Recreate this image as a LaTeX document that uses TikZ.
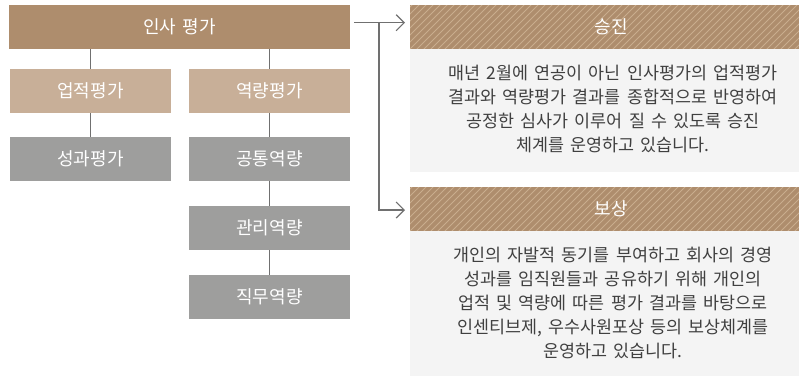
\documentclass[tikz,border=0pt]{standalone}
\usepackage{fontspec}
\setmainfont{Noto Sans CJK KR}
\newfontfamily\titlefont{Noto Sans CJK KR}[WordSpace=1.2]
\newfontfamily\bodyfont{Noto Sans CJK KR}[WordSpace=1.6]
\usetikzlibrary{arrows.meta}
\definecolor{brownA}{HTML}{AE8D6D}
\definecolor{brownL}{HTML}{C8AF98}
\definecolor{grayB}{HTML}{9E9E9D}
\definecolor{bodyBg}{HTML}{F4F4F4}
\definecolor{lineC}{HTML}{707070}
\definecolor{txt}{HTML}{404040}
\definecolor{stripe}{HTML}{C9AD8E}
\begin{document}
\begin{tikzpicture}[x=1pt,y=-1pt,
  boxbase/.style={draw=none,inner sep=0pt,text=white,font=\titlefont\fontsize{18}{20}\selectfont},
  topbox/.style={boxbase,fill=brownA,minimum width=341pt,minimum height=43.7pt},
  midbox/.style={boxbase,fill=brownL,minimum width=161pt,minimum height=43.7pt},
  lowbox/.style={boxbase,fill=grayB,minimum width=161pt,minimum height=43.7pt},
  conn/.style={draw=lineC,line width=1.2pt},
  arr/.style={draw=lineC,line width=1.2pt,-{Straight Barb[length=8pt,width=16pt,line width=1.2pt]}},
  bodytext/.style={text=txt,align=center,inner sep=0pt,font=\bodyfont\fontsize{17.4}{24}\selectfont},
  headtext/.style={text=white,inner sep=0pt,font=\titlefont\fontsize{18}{20}\selectfont}
]
\useasboundingbox (0,0) rectangle (799,376);
\fill[white] (0,0) rectangle (799,376);

% left hierarchy
\node[topbox] (top) at (179.5,26.85) {인사 평가};
\node[midbox] (up) at (90.5,90.85) {업적평가};
\node[midbox] (yeok) at (269.5,90.85) {역량평가};
\node[lowbox] (sung) at (90.5,158.85) {성과평가};
\node[lowbox] (gong) at (269.5,158.85) {공통역량};
\node[lowbox] (gwan) at (269.5,227.85) {관리역량};
\node[lowbox] (jik) at (269.5,296.85) {직무역량};

\draw[conn] (up.north) -- (up.north |- top.south);
\draw[conn] (up.south) -- (sung.north);
\draw[conn] (yeok.north) -- (yeok.north |- top.south);
\draw[conn] (yeok.south) -- (gong.north);
\draw[conn] (gong.south) -- (gwan.north);
\draw[conn] (gwan.south) -- (jik.north);

% right panels
\fill[bodyBg] (410,48.7) rectangle (799,171.7);
\fill[bodyBg] (410,230.7) rectangle (799,376);
\fill[brownA] (410,5) rectangle (799,48.7);
\fill[brownA] (410,187.3) rectangle (799,230.7);
\begin{scope}
  \clip (410,5) rectangle (799,48.7);
  \foreach \i in {360,367,...,820} \draw[stripe,line width=0.9pt] (\i,50) -- (\i+46,4);
\end{scope}
\begin{scope}
  \clip (410,187.3) rectangle (799,230.7);
  \foreach \i in {360,367,...,820} \draw[stripe,line width=0.9pt] (\i,232) -- (\i+46,186);
\end{scope}
\node[headtext] (h1) at (611,26.85) {승진};
\node[headtext] (h2) at (611,209) {보상};

\node[bodytext] (b1) at (613,109) {매년 2월에 연공이 아닌 인사평가의 업적평가\\결과와 역량평가 결과를 종합적으로 반영하여\\공정한 심사가 이루어 질 수 있도록 승진\\체계를 운영하고 있습니다.};
\node[bodytext] (b2) at (613,303.3) {개인의 자발적 동기를 부여하고 회사의 경영\\성과를 임직원들과 공유하기 위해 개인의\\업적 및 역량에 따른 평가 결과를 바탕으로\\인센티브제, 우수사원포상 등의 보상체계를\\운영하고 있습니다.};

% arrows
\coordinate (s1) at (354,22.7);
\coordinate (fork) at (379,22.7);
\coordinate (e1) at (405,22.7);
\coordinate (e2) at (405,210);
\draw[arr] (s1) -- (e1);
\draw[arr] (fork) |- (e2);
\end{tikzpicture}
\end{document}
